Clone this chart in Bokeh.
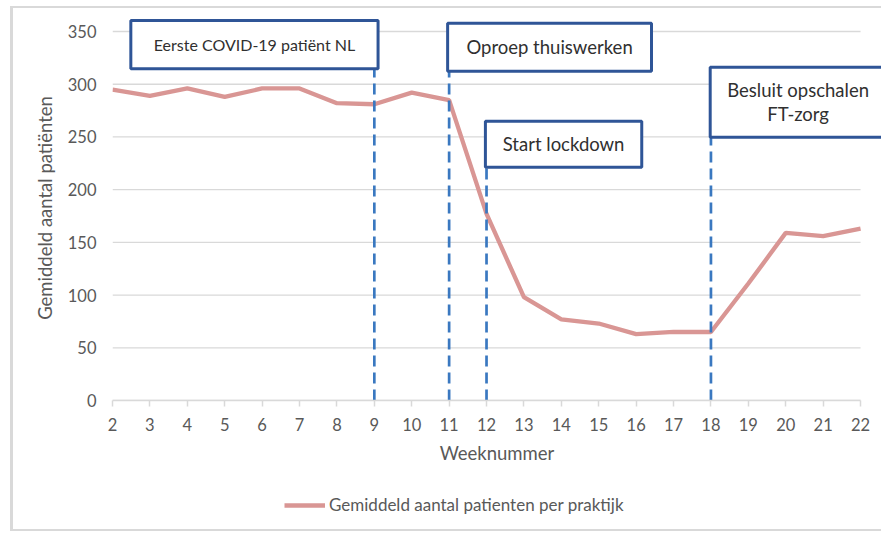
from bokeh.plotting import figure
from bokeh.layouts import column
from bokeh.models import FixedTicker, Legend, LegendItem
from bokeh.embed import file_html
from bokeh.resources import INLINE
from bokeh.core.properties import value

# ---- data ----
weeks = [2, 3, 4, 5, 6, 7, 8, 9, 10, 11, 12, 13, 14, 15, 16, 17, 18, 19, 20, 21, 22]
patients = [295, 289, 296, 288, 296, 296, 282, 281, 292, 285, 177, 98, 77, 73, 63, 65, 65, 111, 159, 156, 163]
y_ticks = [0, 50, 100, 150, 200, 250, 300, 350]
series_label = "Gemiddeld aantal patienten per praktijk"

event_weeks = [9, 11, 12, 18]
event_labels = ["Eerste COVID-19 patiënt NL", "Oproep thuiswerken", "Start lockdown", "Besluit opschalen\nFT-zorg"]
box_left = [2.49, 10.96, 11.97, 17.98]
box_right = [9.10, 16.41, 16.15, 22.68]
box_top = [360.4, 357.9, 264.9, 316.1]
box_bottom = [314.6, 312.3, 221.3, 249.7]
box_font_sizes = ["16px", "18.5px", "18.5px", "18.5px"]

FONT = "Lato"
GRAY = "#d9d9d9"
LABEL = "#595959"
LINE_COLOR = "#d99694"

p = figure(width=881, height=470, output_backend="svg", toolbar_location=None,
           x_range=(2, 22.56), y_range=(0, 365.2),
           min_border_left=112, min_border_right=0, min_border_top=15, min_border_bottom=70)
p.outline_line_color = None
p.xgrid.visible = False
p.ygrid.visible = False
p.background_fill_color = "white"
p.border_fill_color = None

# gridlines spanning only the data weeks
p.segment(x0=weeks[0], x1=weeks[-1], y0=y_ticks, y1=y_ticks, line_color=GRAY, line_width=1.3)

# series
r = p.line(weeks, patients, line_color=LINE_COLOR, line_width=4.3)

# dashed event lines
p.segment(x0=event_weeks, x1=event_weeks, y0=0, y1=box_bottom,
          line_color="#3a78c0", line_width=2.7, line_dash="11 6")

# annotation boxes
p.quad(left=box_left, right=box_right, top=box_top, bottom=box_bottom,
       fill_color="white", line_color="#2f5597", line_width=3)
cx = [(a + b) / 2 for a, b in zip(box_left, box_right)]
cy = [(a + b) / 2 for a, b in zip(box_top, box_bottom)]
p.text(x=cx, y=cy, text=event_labels, text_font_size=box_font_sizes,
       text_align="center", text_baseline="middle",
       text_font=value(FONT), text_color="#303030", text_line_height=1.1)

# axes
xa = p.xaxis[0]
xa.ticker = FixedTicker(ticks=weeks)
xa.bounds = (weeks[0], weeks[-1])
xa.axis_line_color = GRAY
xa.axis_line_width = 1.5
xa.major_tick_line_color = GRAY
xa.major_tick_line_width = 1.5
xa.major_tick_out = 6
xa.major_tick_in = 0
xa.minor_tick_line_color = None
xa.major_label_text_font = FONT
xa.major_label_text_font_size = "16.5px"
xa.major_label_text_color = LABEL
xa.major_label_standoff = 11
xa.axis_label = "Weeknummer"
xa.axis_label_text_font = FONT
xa.axis_label_text_font_size = "18.5px"
xa.axis_label_text_font_style = "normal"
xa.axis_label_text_color = LABEL
xa.axis_label_standoff = 8

ya = p.yaxis[0]
ya.ticker = FixedTicker(ticks=y_ticks)
ya.axis_line_color = None
ya.major_tick_line_color = None
ya.major_tick_out = 0
ya.major_tick_in = 0
ya.minor_tick_line_color = None
ya.major_label_text_font = FONT
ya.major_label_text_font_size = "16.5px"
ya.major_label_text_color = LABEL
ya.major_label_standoff = 16
ya.axis_label = "Gemiddeld aantal patiënten"
ya.axis_label_text_font = FONT
ya.axis_label_text_font_size = "18.5px"
ya.axis_label_text_font_style = "normal"
ya.axis_label_text_color = LABEL
ya.axis_label_standoff = 9

# legend strip below the chart (its frame is aligned with the chart's frame)
p2 = figure(width=881, height=63, output_backend="svg", toolbar_location=None,
            x_range=(0, 1), y_range=(0, 1), x_axis_type=None, y_axis_type=None,
            min_border_left=0, min_border_right=0, min_border_top=0, min_border_bottom=0)
p2.outline_line_color = None
p2.grid.visible = False
p2.background_fill_color = None
p2.border_fill_color = None
# same series, entirely outside this strip's ranges: only its legend swatch is seen
r2 = p2.line(weeks, patients, line_color=LINE_COLOR, line_width=4.3)
legend = Legend(items=[LegendItem(label=series_label, renderers=[r2])], location=(172, 18),
                orientation="horizontal", glyph_width=41, label_standoff=4,
                padding=0, margin=0, border_line_color=None, background_fill_alpha=0,
                label_text_font=FONT, label_text_font_size="17px", label_text_color=LABEL)
p2.add_layout(legend, "center")

layout = column(p, p2, spacing=0)
g = "linear-gradient(#d9d9d9, #d9d9d9)"
layout.styles = {
    "background-color": "white",
    "background-image": f"{g}, {g}, {g}",
    "background-size": "3px 524px, 881px 2px, 881px 2px",
    "background-position": "10px 6px, 10px 6px, 10px 529px",
    "background-repeat": "no-repeat",
}

open("out.html", "w").write(file_html(layout, INLINE))
